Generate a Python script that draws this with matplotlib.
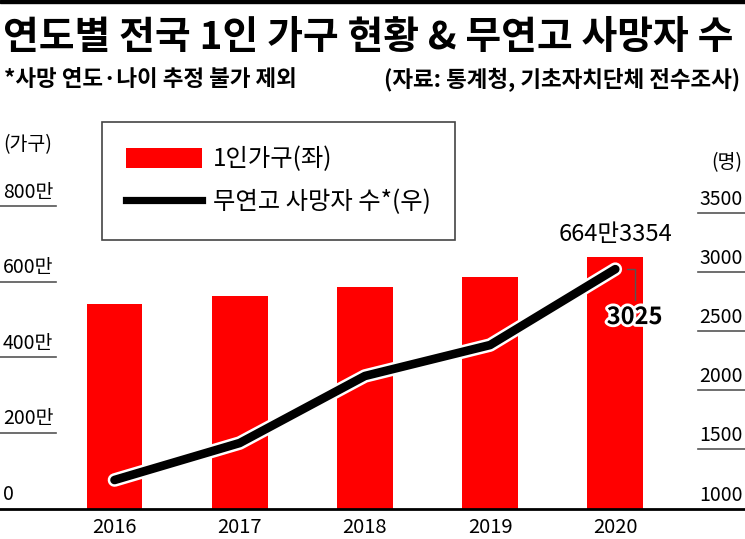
import matplotlib.pyplot as plt
import matplotlib.patheffects as pe
from matplotlib.patches import Patch, Rectangle
from matplotlib.lines import Line2D
from matplotlib.transforms import blended_transform_factory
import numpy as np

plt.rcParams['font.family'] = ['Noto Sans CJK KR', 'DejaVu Sans']

years = ['2016', '2017', '2018', '2019', '2020']
households = [540, 562, 585, 612, 664.3354]   # 만 가구
deaths = [1241, 1554, 2121, 2383, 3025]       # 명

left_ticks = [200, 400, 600, 800]
left_labels = ['200만', '400만', '600만', '800만']
right_ticks = [1500, 2000, 2500, 3000, 3500]
right_labels = ['1500', '2000', '2500', '3000', '3500']

W, H = 745, 539
fig = plt.figure(figsize=(W / 100, H / 100), dpi=100)

# axes spans full width, bottom at the baseline
ax_bottom = (H - 508.5) / H
ax_top = (H - 150) / H
ax = fig.add_axes([0, ax_bottom, 1, ax_top - ax_bottom])
ax2 = ax.twinx()

x = np.arange(len(years))
ax.bar(x, households, width=0.447, color='#ff0000', zorder=2)
ax.set_xlim(-0.9145, 5.036)
ax.set_ylim(0, 358.5 / 0.378)
ax2.set_ylim(1000, 1000 + 358.5 / 0.1182)

ax2.plot(x, deaths, color='black', lw=6.2, solid_capstyle='round',
         solid_joinstyle='round', zorder=3,
         path_effects=[pe.Stroke(linewidth=9.8, foreground='white'), pe.Normal()])

for a in (ax, ax2):
    for s in ('top', 'left', 'right'):
        a.spines[s].set_visible(False)
    a.set_yticks([])
ax.spines['bottom'].set_linewidth(2)
ax.spines['bottom'].set_color('black')
ax2.spines['bottom'].set_visible(False)

ax.set_xticks(x, years, fontsize=14.5, fontweight='medium')
ax.tick_params(axis='x', length=0, pad=6)

# left axis labels with short underlines
tl = blended_transform_factory(ax.transAxes, ax.transData)
for v, lab in zip(left_ticks, left_labels):
    ax.plot([0, 56 / W], [v, v], transform=tl, color='#555555', lw=1.2, clip_on=False)
    ax.text(3 / W, v + 9, lab, transform=tl, fontsize=14, ha='left', va='bottom')
ax.text(3 / W, 10, '0', transform=tl, fontsize=14, ha='left', va='bottom')

tr = blended_transform_factory(ax2.transAxes, ax2.transData)
for v, lab in zip(right_ticks, right_labels):
    ax2.plot([698 / W, 1], [v, v], transform=tr, color='#555555', lw=1.2, clip_on=False)
    ax2.text(1 - 2 / W, v + 25, lab, transform=tr, fontsize=14, ha='right', va='bottom')
ax2.text(1 - 2 / W, 1025, '1000', transform=tr, fontsize=14, ha='right', va='bottom')

fig.text(3 / W, 1 - 145 / H, '(가구)', fontsize=14, ha='left', va='center')
fig.text(1 - 3 / W, 1 - 163 / H, '(명)', fontsize=14, ha='right', va='center')

# value labels for 2020
ax.annotate('664만3354', xy=(4, households[4]), xytext=(0, 16.5), textcoords='offset points',
            ha='center', va='center', fontsize=17, fontweight='medium')
ax2.annotate('3025', xy=(4, deaths[4]), xytext=(14, -34.5), textcoords='offset points',
             ha='center', va='center', fontsize=17, fontweight='bold', zorder=5,
             path_effects=[pe.withStroke(linewidth=4, foreground='white')],
             arrowprops=dict(arrowstyle='-', color='#555555', lw=1,
                             connectionstyle='angle,angleA=90,angleB=0,rad=0',
                             shrinkA=2, shrinkB=8.5))

handles = [Patch(facecolor='#ff0000', edgecolor='none'),
           Line2D([], [], color='black', lw=5.2)]
leg = ax2.legend(handles, ['1인가구(좌)', '무연고 사망자 수*(우)'],
                 loc='upper left', bbox_to_anchor=(102 / W, 1 - 122 / H),
                 bbox_transform=fig.transFigure, borderaxespad=0, fontsize=17.5,
                 fancybox=False, framealpha=1, edgecolor='#444444',
                 handlelength=3.1, handleheight=0.9, handletextpad=0.45,
                 labelspacing=0.7, borderpad=1.0)
leg.get_frame().set_linewidth(1.2)
leg.set_zorder(10)

# header
fig.add_artist(Rectangle((0, 1 - 3 / H), 1, 3 / H, transform=fig.transFigure,
                         color='black'))
fig.text(3 / W, 1 - 37.5 / H, '연도별 전국 1인 가구 현황 & 무연고 사망자 수',
         fontsize=28, fontweight='heavy', ha='left', va='center')
fig.text(4 / W, 1 - 80 / H, '*사망 연도·나이 추정 불가 제외',
         fontsize=16.2, fontweight='bold', ha='left', va='center')
fig.text(1 - 5 / W, 1 - 80 / H, '(자료: 통계청, 기초자치단체 전수조사)',
         fontsize=16.2, fontweight='bold', ha='right', va='center')

fig.savefig('out.png', dpi=100)
